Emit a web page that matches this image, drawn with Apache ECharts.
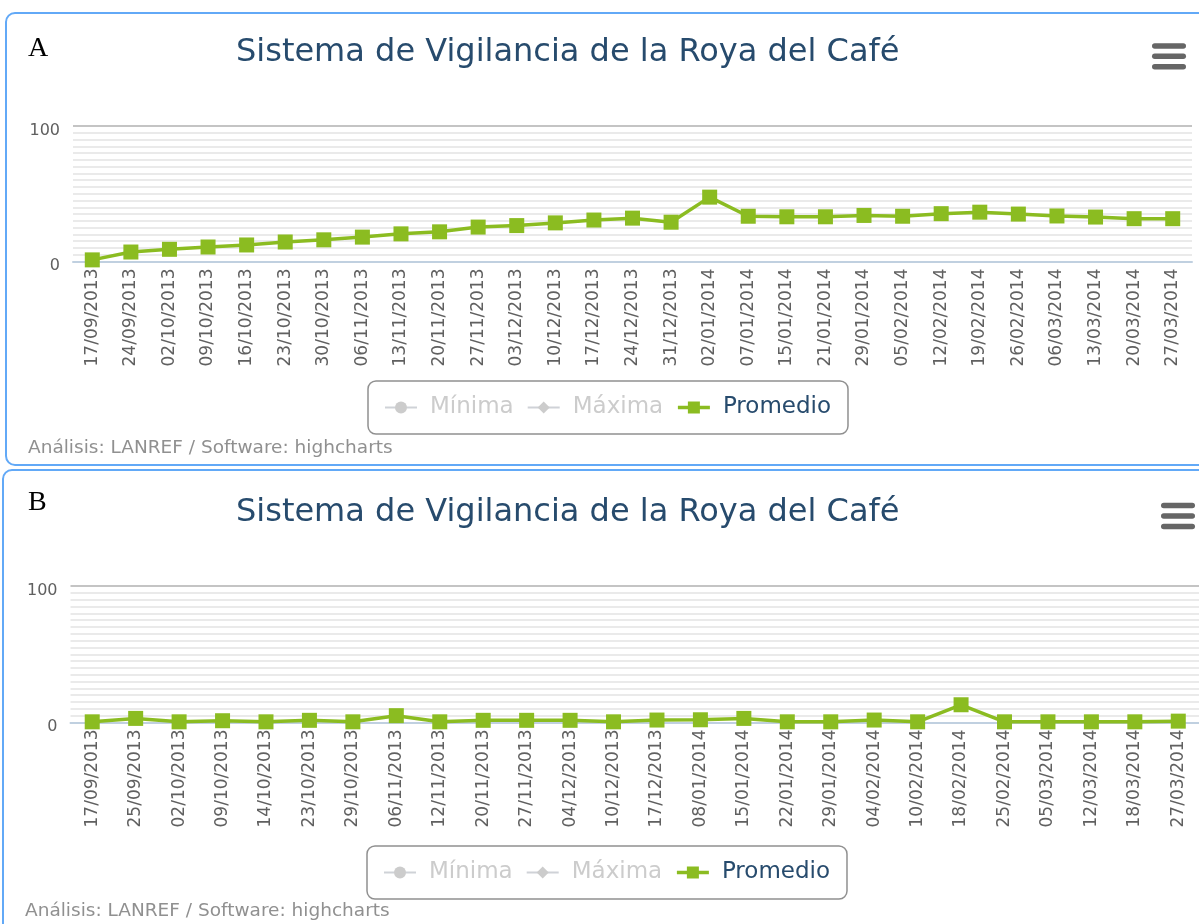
<!DOCTYPE html>
<html><head><meta charset="utf-8">
<script src="https://cdn.jsdelivr.net/npm/echarts@6/dist/echarts.min.js"></script>
<style>html,body{margin:0;padding:0;background:#fff;overflow:hidden}#c{width:1199px;height:924px}</style>
</head><body><div id="c"></div>
<script>
const categoriesA = ['17/09/2013','24/09/2013','02/10/2013','09/10/2013','16/10/2013','23/10/2013','30/10/2013','06/11/2013','13/11/2013','20/11/2013','27/11/2013','03/12/2013','10/12/2013','17/12/2013','24/12/2013','31/12/2013','02/01/2014','07/01/2014','15/01/2014','21/01/2014','29/01/2014','05/02/2014','12/02/2014','19/02/2014','26/02/2014','06/03/2014','13/03/2014','20/03/2014','27/03/2014'];
const promedioA = [1.2,7,9,10.7,12.2,14.4,16,18,20.4,21.9,25.4,26.5,28.5,30.6,32,29,47.5,33.4,33,33,34,33.4,35.3,36.4,35,33.6,32.8,31.6,31.6];
const categoriesB = ['17/09/2013','25/09/2013','02/10/2013','09/10/2013','14/10/2013','23/10/2013','29/10/2013','06/11/2013','12/11/2013','20/11/2013','27/11/2013','04/12/2013','10/12/2013','17/12/2013','08/01/2014','15/01/2014','22/01/2014','29/01/2014','04/02/2014','10/02/2014','18/02/2014','25/02/2014','05/03/2014','12/03/2014','18/03/2014','27/03/2014'];
const promedioB = [0.5,3,0.5,1.3,0.5,1.6,0.5,5,0.5,1.6,1.6,1.6,0.5,1.8,2,3,0.5,0.5,1.8,0.5,13,0.5,0.5,0.5,0.5,1];
const yMin = 0, yMax = 100, yInterval = 100;
const legendNames = ['Mínima','Máxima','Promedio'];
const chartTitle = 'Sistema de Vigilancia de la Roya del Café';
const creditText = 'Análisis: LANREF / Software: highcharts';

const F = 'DejaVu Sans';
const GREEN = '#8BBC21';
const chart = echarts.init(document.getElementById('c'), null, {renderer:'canvas'});

function xAxis(idx, data){
  return {gridIndex:idx, type:'category', data:data, boundaryGap:true,
    axisLine:{lineStyle:{color:'#C0D0E0', width:2}},
    axisTick:{length:8, interval:0, lineStyle:{color:'#C0D0E0', width:1.5}},
    axisLabel:{rotate:90, interval:0, color:'#606060', fontSize:17, fontFamily:F, margin:7},
    splitLine:{show:false}};
}
function yAxis(idx){
  return {gridIndex:idx, type:'value', min:yMin, max:yMax, interval:yInterval,
    axisLine:{show:false}, axisTick:{show:false},
    axisLabel:{color:'#606060', fontSize:16, fontFamily:F, margin:13, verticalAlign:'top', lineHeight:9},
    splitLine:{lineStyle:{color:'#c4c4c4', width:2}},
    minorTick:{show:false, splitNumber:20},
    minorSplitLine:{show:true, lineStyle:{color:'#e4e4e4', width:1.5}}};
}
function seriesFor(idx, data){
  return [
    {name:'Mínima', type:'line', xAxisIndex:idx, yAxisIndex:idx, data:[], symbol:'circle', symbolSize:12, itemStyle:{color:'#cccccc'}, lineStyle:{width:3}},
    {name:'Máxima', type:'line', xAxisIndex:idx, yAxisIndex:idx, data:[], symbol:'diamond', symbolSize:12, itemStyle:{color:'#cccccc'}, lineStyle:{width:3}},
    {name:'Promedio', type:'line', xAxisIndex:idx, yAxisIndex:idx, data:data, symbol:'rect', symbolSize:15, clip:false,
      itemStyle:{color:GREEN}, lineStyle:{width:3.5, color:GREEN}, animation:false, z:5}
  ];
}
function legend(top, left){
  return {top:top, left:left, orient:'horizontal', itemWidth:32, itemHeight:15, itemGap:13,
    padding:[15,17,15,16], borderColor:'#909090', borderWidth:1.5, borderRadius:8,
    inactiveColor:'#cccccc', inactiveBorderColor:'#cccccc',
    lineStyle:{width:3.5},
    textStyle:{fontSize:23, color:'#274b6d', fontFamily:F, padding:[0,0,0,8]},
    data:legendNames, selected:{'Mínima':false,'Máxima':false,'Promedio':true}};
}
function burger(x, yc){
  const els = [];
  [-10.4, 0, 10.4].forEach(d => els.push({type:'rect', shape:{x:x, y:yc+d-2.75, width:34, height:5.5, r:2.75}, style:{fill:'#666666'}}));
  return els;
}
const titleStyle = {fontSize:32, color:'#274b6d', fontWeight:'normal', fontFamily:F};
const option = {
  animation:false,
  backgroundColor:'#ffffff',
  title:[
    {text:chartTitle, left:236, top:37, padding:0, textStyle:titleStyle},
    {text:chartTitle, left:236, top:497, padding:0, textStyle:titleStyle},
    {text:'A', left:28, top:35, padding:0, textStyle:{fontFamily:'Liberation Serif', fontSize:28, color:'#000', fontWeight:'normal'}},
    {text:'B', left:28, top:489, padding:0, textStyle:{fontFamily:'Liberation Serif', fontSize:28, color:'#000', fontWeight:'normal'}},
    {text:creditText, left:28, top:439, padding:0, textStyle:{fontFamily:F, fontSize:18.5, color:'#909090', fontWeight:'normal'}},
    {text:creditText, left:25, top:902, padding:0, textStyle:{fontFamily:F, fontSize:18.5, color:'#909090', fontWeight:'normal'}}
  ],
  legend:[legend(381, 368), legend(846, 367)],
  grid:[
    {left:73, top:126, width:1119, height:135.5, outerBoundsMode:'none', containLabel:false},
    {left:70.5, top:586, width:1129.5, height:136.5, outerBoundsMode:'none', containLabel:false}
  ],
  xAxis:[xAxis(0, categoriesA), xAxis(1, categoriesB)],
  yAxis:[yAxis(0), yAxis(1)],
  series:[...seriesFor(0, promedioA), ...seriesFor(1, promedioB)],
  graphic:[
    {type:'rect', shape:{x:6, y:13, width:1230, height:452, r:9}, style:{fill:'none', stroke:'#62a9f7', lineWidth:2}, z:-10},
    {type:'rect', shape:{x:3, y:470, width:1230, height:500, r:9}, style:{fill:'none', stroke:'#62a9f7', lineWidth:2}, z:-10},
    ...burger(1152, 56.3),
    ...burger(1161, 516)
  ]
};
chart.setOption(option);
</script>
</body></html>
